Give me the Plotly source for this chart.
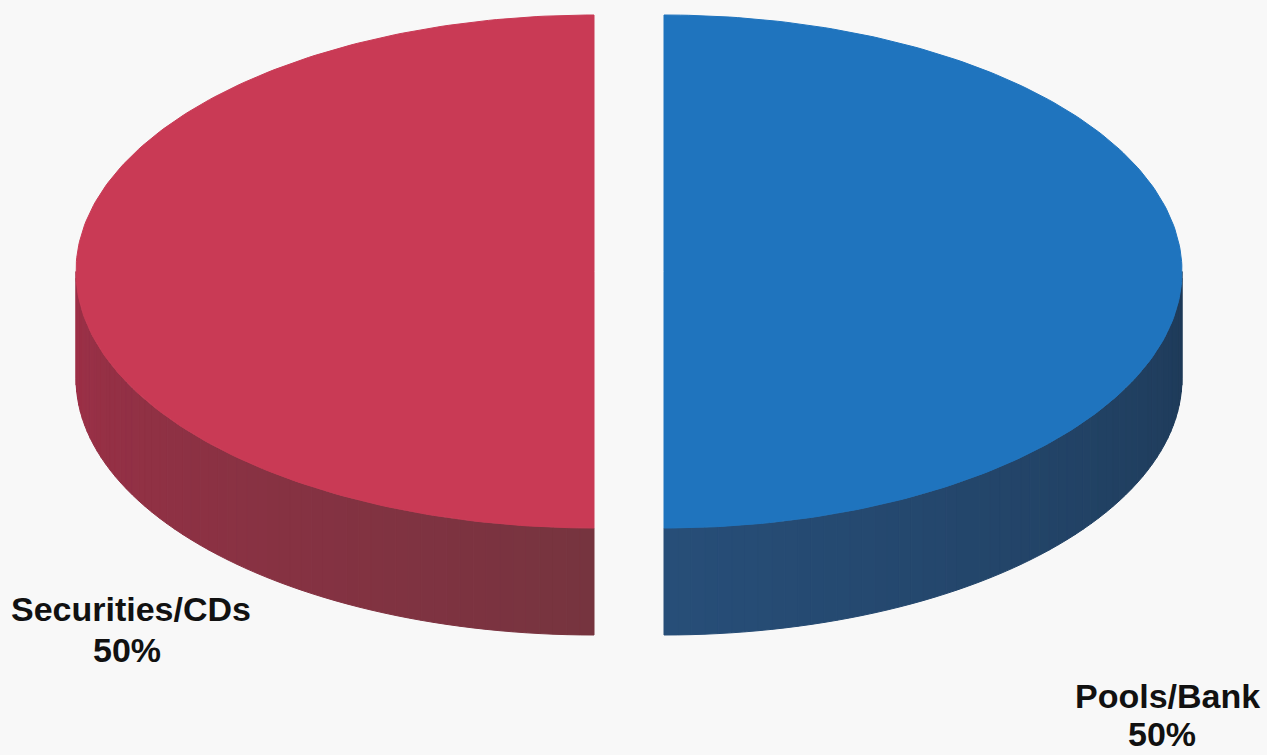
import numpy as np
import plotly.graph_objects as go

# ---- data ----
labels = ["Securities/CDs", "Pools/Bank"]
values = [50, 50]
top_colors = ["#C93A55", "#1F74BE"]
side_left_colors = ["#9E2F47", "#274E78"]
side_right_colors = ["#76343F", "#1E3A58"]

# ---- geometry (style) ----
W, H = 1267, 755
cx, cy = 629.0, 271.5
a, b = 518.0, 256.5
depth = 107.0
explode = 35.0
start_angle = 90.0


def hex2rgb(h):
    h = h.lstrip("#")
    return np.array([int(h[i:i + 2], 16) for i in (0, 2, 4)], dtype=float)


def mix(c1, c2, t):
    c = hex2rgb(c1) * (1 - t) + hex2rgb(c2) * t
    return "rgb(%d,%d,%d)" % tuple(np.round(c).astype(int))


fig = go.Figure()
total = float(sum(values))
angle = start_angle
slices = []
for lab, v, tc, sl, sr in zip(labels, values, top_colors, side_left_colors, side_right_colors):
    span = 360.0 * v / total
    t0, t1 = angle, angle + span
    mid = np.radians((t0 + t1) / 2)
    ox = cx + explode * np.cos(mid)
    oy = cy - explode * (b / a) * np.sin(mid)
    slices.append((lab, v, tc, sl, sr, t0, t1, ox, oy))
    angle = t1

# sides first (front visible part: angles between 180 and 360)
for lab, v, tc, sl, sr, t0, t1, ox, oy in slices:
    for k in range(-1, 2):
        lo = max(t0, 180 + 360 * k)
        hi = min(t1, 360 + 360 * k)
        if hi <= lo:
            continue
        n = 60
        edges = np.linspace(lo, hi, n + 1)
        for i in range(n):
            th = np.radians(np.linspace(edges[i], edges[i + 1], 6))
            xs_top = ox + a * np.cos(th)
            ys_top = oy - b * np.sin(th)
            xs = np.concatenate([xs_top, xs_top[::-1], xs_top[:1]])
            ys = np.concatenate([ys_top, ys_top[::-1] + depth, ys_top[:1]])
            frac = (i + 0.5) / n
            col = mix(sl, sr, frac)
            fig.add_trace(go.Scatter(x=xs, y=ys, mode="lines", fill="toself",
                                     fillcolor=col, line=dict(color=col, width=1),
                                     hoverinfo="skip", showlegend=False))

# top faces
for lab, v, tc, sl, sr, t0, t1, ox, oy in slices:
    th = np.radians(np.linspace(t0, t1, 200))
    xs = np.concatenate([[ox], ox + a * np.cos(th), [ox]])
    ys = np.concatenate([[oy], oy - b * np.sin(th), [oy]])
    fig.add_trace(go.Scatter(x=xs, y=ys, mode="lines", fill="toself",
                             fillcolor=tc, line=dict(color=tc, width=1),
                             name=lab, hoverinfo="name", showlegend=False))

# labels
label_pos = {"Securities/CDs": ((131, 609), (127, 650)),
             "Pools/Bank": ((1167, 696), (1162, 734))}
font = dict(size=34, color="#111111", family="Liberation Sans, Arial", weight="bold")
for lab, v, *_ in slices:
    (x1, y1), (x2, y2) = label_pos[lab]
    pct = "%d%%" % round(100 * v / total)
    fig.add_annotation(x=x1, y=y1, text=lab, showarrow=False, xanchor="center",
                       yanchor="middle", font=font, borderpad=0)
    fig.add_annotation(x=x2, y=y2, text=pct, showarrow=False, xanchor="center",
                       yanchor="middle", font=font, borderpad=0)

fig.update_layout(width=W, height=H, margin=dict(l=0, r=0, t=0, b=0),
                  paper_bgcolor="#F8F8F8", plot_bgcolor="#F8F8F8",
                  xaxis=dict(range=[0, W], visible=False, fixedrange=True),
                  yaxis=dict(range=[H, 0], visible=False, fixedrange=True))
fig.write_html("out.html", config={"displayModeBar": False},
               post_script="document.body.style.margin='0';"
                           "document.body.style.overflow='hidden';"
                           "document.body.style.background='#F8F8F8';")
